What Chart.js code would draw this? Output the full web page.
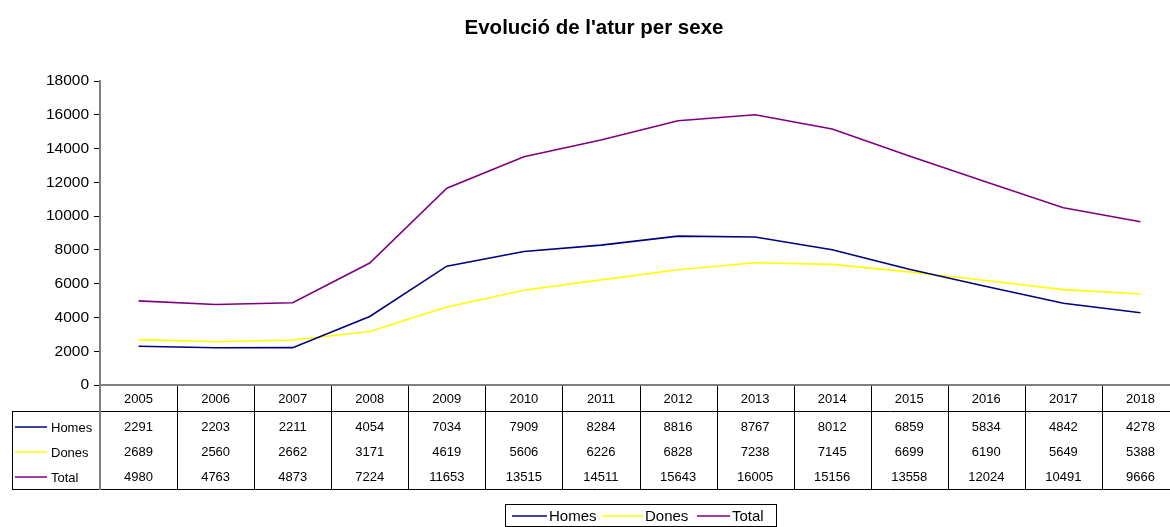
<!DOCTYPE html>
<html>
<head>
<meta charset="utf-8">
<script src="https://cdn.jsdelivr.net/npm/chart.js@4"></script>
<style>
html,body{margin:0;padding:0;background:#fff;overflow:hidden;}
canvas{display:block;}
</style>
</head>
<body>
<canvas id="c" width="1182" height="527"></canvas>
<script>
const title = "Evolució de l'atur per sexe";
const years = ['2005','2006','2007','2008','2009','2010','2011','2012','2013','2014','2015','2016','2017','2018'];
const homes = [2291,2203,2211,4054,7034,7909,8284,8816,8767,8012,6859,5834,4842,4278];
const dones = [2689,2560,2662,3171,4619,5606,6226,6828,7238,7145,6699,6190,5649,5388];
const total = [4980,4763,4873,7224,11653,13515,14511,15643,16005,15156,13558,12024,10491,9666];
const seriesNames = ['Homes','Dones','Total'];
const seriesColors = ['#000080','#FFFF00','#800080'];
const yTicks = [0,2000,4000,6000,8000,10000,12000,14000,16000,18000];

const FONT = "'Liberation Sans', Arial, sans-serif";

const tablePlugin = {
  id: 'tablePlugin',
  afterDraw(chart) {
    const ctx = chart.ctx;
    const xs = chart.scales.x;
    const area = chart.chartArea;
    const n = years.length;
    const colW = (area.right - area.left) / n;
    const top = area.bottom;
    const headerBottom = top + 26;
    const bottom = headerBottom + 78;
    const leftBox = 12.5;
    ctx.save();
    ctx.strokeStyle = '#000';
    ctx.lineWidth = 1;
    ctx.beginPath();
    for (let i = 1; i <= n; i++) {
      const x = Math.round(area.left + i * colW) + 0.5;
      ctx.moveTo(x, top); ctx.lineTo(x, bottom);
    }
    ctx.moveTo(leftBox, headerBottom + 0.5); ctx.lineTo(area.right + 5, headerBottom + 0.5);
    ctx.moveTo(leftBox, bottom + 0.5); ctx.lineTo(area.right + 5, bottom + 0.5);
    ctx.moveTo(leftBox, headerBottom); ctx.lineTo(leftBox, bottom + 1);
    ctx.stroke();
    ctx.strokeStyle = '#808080';
    ctx.lineWidth = 2;
    ctx.beginPath();
    ctx.moveTo(area.left, top); ctx.lineTo(area.right + 5, top);
    ctx.moveTo(area.left, area.top - 1); ctx.lineTo(area.left, bottom + 1);
    ctx.stroke();
    ctx.fillStyle = '#000';
    ctx.font = '13px ' + FONT;
    ctx.textAlign = 'center';
    ctx.textBaseline = 'middle';
    const rows = [homes, dones, total];
    const rowY = [top + 14, top + 42, top + 67, top + 92];
    for (let i = 0; i < n; i++) {
      const x = xs.getPixelForValue(i);
      ctx.fillText(years[i], x, rowY[0]);
      for (let r = 0; r < 3; r++) {
        ctx.fillText(String(rows[r][i]), x, rowY[r + 1]);
      }
    }
    ctx.textAlign = 'left';
    for (let r = 0; r < 3; r++) {
      const y = rowY[r + 1];
      ctx.strokeStyle = seriesColors[r];
      ctx.lineWidth = 1.5;
      ctx.beginPath();
      ctx.moveTo(15, y); ctx.lineTo(47, y);
      ctx.stroke();
      ctx.fillText(seriesNames[r], 51, y + 1);
    }
    ctx.font = 'bold 20.5px ' + FONT;
    ctx.textAlign = 'center';
    ctx.fillText(title, 594, 28);
    ctx.strokeStyle = '#000';
    ctx.lineWidth = 1;
    ctx.strokeRect(505.5, 504.5, 271, 22);
    ctx.font = '15px ' + FONT;
    ctx.textAlign = 'left';
    const legX = [[512, 547, 549], [602, 643, 645], [697, 730, 732]];
    for (let r = 0; r < 3; r++) {
      ctx.strokeStyle = seriesColors[r];
      ctx.lineWidth = 1.5;
      ctx.beginPath();
      ctx.moveTo(legX[r][0], 516); ctx.lineTo(legX[r][1], 516);
      ctx.stroke();
      ctx.fillText(seriesNames[r], legX[r][2], 517);
    }
    ctx.restore();
  }
};

const mk = (label, data, color) => ({
  label, data, borderColor: color, backgroundColor: color,
  borderWidth: 1.6, pointRadius: 0, pointHoverRadius: 0, tension: 0, fill: false
});

new Chart(document.getElementById('c'), {
  type: 'line',
  data: {
    labels: years,
    datasets: [
      mk(seriesNames[0], homes, seriesColors[0]),
      mk(seriesNames[1], dones, seriesColors[1]),
      mk(seriesNames[2], total, seriesColors[2])
    ]
  },
  options: {
    responsive: false,
    animation: false,
    devicePixelRatio: 1,
    layout: { padding: { left: 0, top: 81, right: 3, bottom: 142 } },
    plugins: { legend: { display: false }, title: { display: false }, tooltip: { enabled: false } },
    scales: {
      x: { type: 'category', display: false, offset: true },
      y: {
        min: 0, max: 18000,
        afterFit(scale) { scale.width = 100; },
        afterBuildTicks(scale) { scale.ticks = yTicks.map(v => ({ value: v })); },
        ticks: { color: '#000', font: { family: FONT, size: 15.5 }, padding: 5, callback: v => String(v) },
        grid: { drawOnChartArea: false, drawTicks: true, tickLength: 6, color: '#000', lineWidth: 1 },
        border: { display: true, color: '#808080', width: 2 }
      }
    }
  },
  plugins: [tablePlugin]
});
</script>
</body>
</html>
